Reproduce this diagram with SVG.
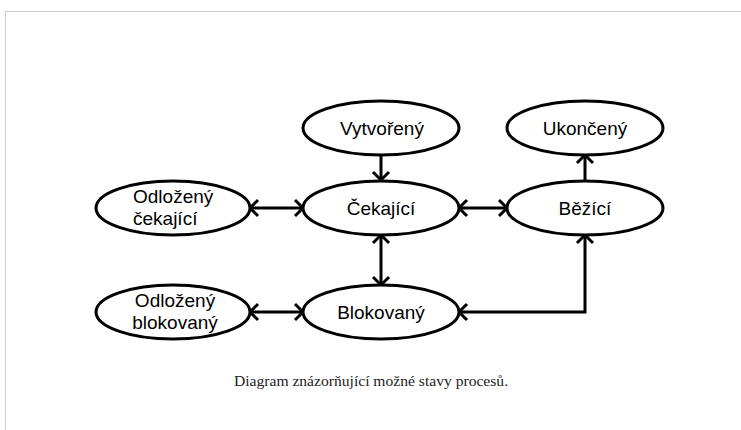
<svg xmlns="http://www.w3.org/2000/svg" width="741" height="430" viewBox="0 0 741 430">
<style>
.node ellipse{fill:#fff;stroke:#000;stroke-width:3}
.node text{font-family:"Liberation Sans",Arial,sans-serif;font-size:19px;fill:#000;text-anchor:middle}
.node text.l{text-anchor:start}
.edge{fill:none;stroke:#000;stroke-width:3}
.cap{font-family:"Liberation Serif","Times New Roman",serif;font-size:15.6px;fill:#222;text-anchor:middle}
</style>
<defs>
<marker id="ah" markerUnits="userSpaceOnUse" markerWidth="20" markerHeight="20" refX="10" refY="9" orient="auto-start-reverse" overflow="visible">
<path d="M2,1 L10,9 L2,17" fill="none" stroke="#000" stroke-width="3"/>
</marker>
</defs>
<rect width="741" height="430" fill="#fff"/>
<path d="M5.5,430 V11.5 H741" fill="none" stroke="#ccc" stroke-width="1"/>
<g id="connectors">
<path class="edge" d="M381,155 V180" marker-end="url(#ah)"/>
<path class="edge" d="M585,181 V155" marker-end="url(#ah)"/>
<path class="edge" d="M250,208 H303" marker-start="url(#ah)" marker-end="url(#ah)"/>
<path class="edge" d="M459,208 H507" marker-start="url(#ah)" marker-end="url(#ah)"/>
<path class="edge" d="M381,235 V285" marker-start="url(#ah)" marker-end="url(#ah)"/>
<path class="edge" d="M250,312 H303" marker-start="url(#ah)" marker-end="url(#ah)"/>
<path class="edge" d="M585,235 V312 H459" marker-start="url(#ah)" marker-end="url(#ah)"/>
</g>
<g id="vytvoreny" class="node"><ellipse cx="381" cy="128" rx="78" ry="27"/><text x="382" y="135">Vytvořený</text></g>
<g id="ukonceny" class="node"><ellipse cx="585" cy="128" rx="78" ry="27"/><text x="585" y="135">Ukončený</text></g>
<g id="odlozeny-cekajici" class="node"><ellipse cx="173" cy="208" rx="77" ry="27"/><text class="l" x="133" y="203">Odložený</text><text class="l" x="133" y="225">čekající</text></g>
<g id="cekajici" class="node"><ellipse cx="381" cy="208" rx="78" ry="27"/><text x="381" y="215">Čekající</text></g>
<g id="bezici" class="node"><ellipse cx="585" cy="208" rx="78" ry="27"/><text x="585" y="215">Běžící</text></g>
<g id="odlozeny-blokovany" class="node"><ellipse cx="173" cy="312" rx="77" ry="27"/><text x="175" y="307">Odložený</text><text x="175" y="329">blokovaný</text></g>
<g id="blokovany" class="node"><ellipse cx="381" cy="312" rx="78" ry="27"/><text x="381" y="319">Blokovaný</text></g>
<text class="cap" x="371" y="386">Diagram znázorňující možné stavy procesů.</text>
</svg>
